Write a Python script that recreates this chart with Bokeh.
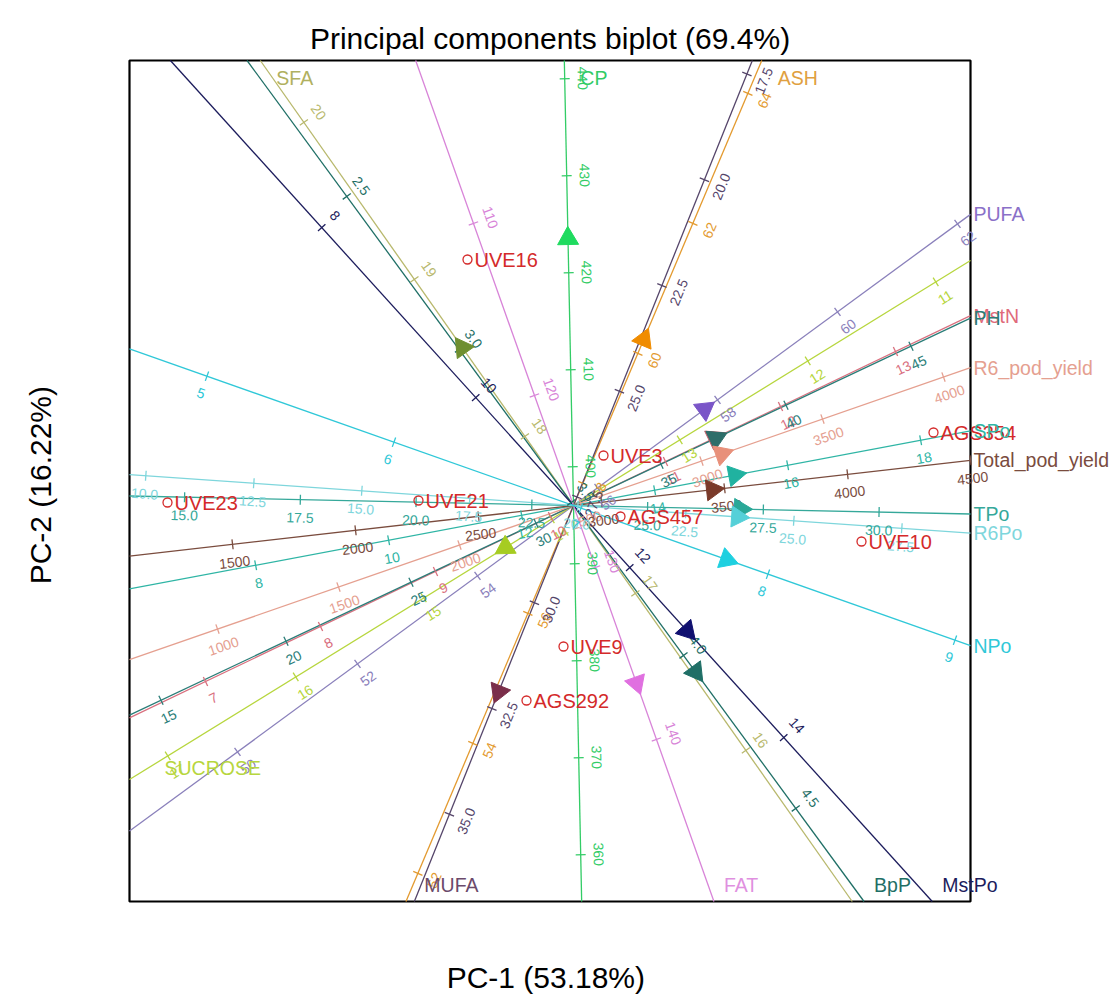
import math
from bokeh.plotting import figure
from bokeh.models import ColumnDataSource, Range1d
from bokeh.core.properties import value
from bokeh.embed import file_html
from bokeh.resources import INLINE

# ------------------------------------------------------------------ data
title_text = "Principal components biplot (69.4%)"
x_label = "PC-1  (53.18%)"
y_label = "PC-2  (16.22%)"

var_names = ["CP", "ASH", "MUFA", "SFA", "BpP", "MstPo", "FAT", "PUFA", "SUCROSE",
             "MstN", "PH", "R6_pod_yield", "SPo", "Total_pod_yield", "TPo", "R6Po", "NPo"]
# variable value at the biplot origin
var_center = [396.0, 57.66, 27.7, 17.56, 3.51, 11.27, 126.4, 55.6, 13.83,
              10.2, 31.5, 2471.0, 12.78, 2886.0, 23.4, 19.9, 6.96]
# calibration of each biplot axis: (PC1, PC2) shift per unit of the variable
var_dx = [-0.002, 0.275, -0.170, -1.105, 2.245, 0.77, 0.061, 0.60, -1.28,
          1.15, 0.25, 0.00242, 0.665, 0.00246, 0.463, 0.432, 1.87]
var_dy = [0.097, 0.65, -0.423, 1.57, -3.06, -0.85, -0.172, 0.44, -0.79,
          0.55, 0.118, 0.00084, 0.125, 0.00028, -0.0099, -0.030, -0.66]
var_ticks = [
    [360, 370, 380, 390, 400, 410, 420, 430, 440],
    [52, 54, 56, 58, 60, 62, 64],
    [17.5, 20.0, 22.5, 25.0, 27.5, 30.0, 32.5, 35.0],
    [16, 17, 18, 19, 20],
    [2.5, 3.0, 3.5, 4.0, 4.5],
    [8, 10, 12, 14],
    [110, 120, 130, 140],
    [50, 52, 54, 56, 58, 60, 62],
    [11, 12, 13, 14, 15, 16, 17],
    [7, 8, 9, 10, 11, 12, 13],
    [15, 20, 25, 30, 35, 40, 45],
    [1000, 1500, 2000, 2500, 3000, 3500, 4000],
    [8, 10, 12, 14, 16, 18],
    [1500, 2000, 2500, 3000, 3500, 4000, 4500],
    [15.0, 17.5, 20.0, 22.5, 25.0, 27.5, 30.0],
    [10.0, 12.5, 15.0, 17.5, 20.0, 22.5, 25.0, 27.5],
    [5, 6, 7, 8, 9],
]
var_decimals = [0, 0, 1, 0, 1, 0, 0, 0, 0, 0, 0, 0, 0, 0, 1, 1, 0]
# loadings (arrow tips) on PC1 / PC2
load_x = [-0.07, 0.68, -0.78, -1.11, 1.24, 1.14, 0.62, 1.32, -0.68,
          1.40, 1.43, 1.49, 1.62, 1.39, 1.67, 1.64, 1.52]
load_y = [2.67, 1.67, -1.85, 1.58, -1.65, -1.25, -1.78, 0.95, -0.42,
          0.70, 0.66, 0.50, 0.27, 0.17, -0.06, -0.14, -0.58]

obs_names = ["UVE16", "UVE3", "UVE21", "UVE23", "AGS457", "AGS354", "UVE10", "UVE9", "AGS292"]
obs_x = [-1.06, 0.30, -1.55, -4.06, 0.47, 3.60, 2.88, -0.10, -0.47]
obs_y = [2.46, 0.50, 0.05, 0.03, -0.11, 0.73, -0.36, -1.41, -1.95]

# ------------------------------------------------------------------ styles
var_colors = ["#33CC66", "#E39A2F", "#55456A", "#B8B86C", "#1F6F66", "#1C1C5C", "#D884D8",
              "#8A80BB", "#B7D63E", "#D9707F", "#2A7D78", "#E5A090", "#2FB5A5", "#7A4C3E",
              "#35A89A", "#7ED6DC", "#30C8D8"]
arrow_colors = ["#1FDB5F", "#F08C00", "#7A2E4A", "#6F8F2F", "#1F6F66", "#101070", "#E070E0",
                "#7A55C8", "#A6CC22", "#C0606A", "#2D6E6A", "#E8907A", "#20B2A0", "#7A3A2A",
                "#2AA898", "#55D0D8", "#1ED0E0"]
name_colors = ["#33CC66", "#E0A040", "#6B4A6B", "#B0B060", "#1F6F66", "#1C1C5C", "#E090E0",
               "#8A70C8", "#B7D63E", "#E06A7A", "#2A7D78", "#E5A090", "#2FB5A5", "#7A4C3E",
               "#35A89A", "#7ED6DC", "#30C8D8"]
obs_color = "#D42A2A"
FONT = "Liberation Sans"

# biplot box (data units, 100 px per unit) and whole canvas
X0, X1, Y0, Y1 = -4.44, 3.97, -3.96, 4.45
W, H = 1114, 998
CX0, CY1 = -5.73, 5.05
CX1, CY0 = CX0 + W / 100.0, CY1 - H / 100.0

p = figure(width=W, height=H, x_range=Range1d(CX0, CX1), y_range=Range1d(CY0, CY1),
           x_axis_type=None, y_axis_type=None, output_backend="svg", toolbar_location=None,
           min_border=0, min_border_left=0, min_border_right=0, min_border_top=0,
           min_border_bottom=0)
p.outline_line_color = None
p.background_fill_color = "white"
p.border_fill_color = "white"


def ray_exit(ux, uy):
    c = []
    if ux > 1e-9:
        c.append((X1 / ux, "right"))
    if ux < -1e-9:
        c.append((X0 / ux, "left"))
    if uy > 1e-9:
        c.append((Y1 / uy, "top"))
    if uy < -1e-9:
        c.append((Y0 / uy, "bottom"))
    return min(c)


seg = dict(x0=[], y0=[], x1=[], y1=[], color=[])
tck = dict(x0=[], y0=[], x1=[], y1=[], color=[])
tlab = dict(x=[], y=[], text=[], angle=[], color=[])
nlab = dict(x=[], y=[], text=[], color=[], align=[], baseline=[])
arr = dict(x=[], y=[], angle=[], color=[])

for i, nm in enumerate(var_names):
    dx, dy = var_dx[i], var_dy[i]
    nrm = math.hypot(dx, dy)
    ux, uy = dx / nrm, dy / nrm
    tp, side = ray_exit(ux, uy)
    tm, _ = ray_exit(-ux, -uy)
    seg["x0"].append(-tm * ux); seg["y0"].append(-tm * uy)
    seg["x1"].append(tp * ux); seg["y1"].append(tp * uy)
    seg["color"].append(var_colors[i])
    th = math.atan2(uy, ux)
    tn = th
    if tn > math.pi / 2 + 1e-9:
        tn -= math.pi
    if tn <= -math.pi / 2:
        tn += math.pi
    ox, oy = math.sin(tn), -math.cos(tn)
    if abs(tn) > math.pi / 4 and ox < 0:
        ox, oy = -ox, -oy
    nx, ny = -uy, ux
    for v in var_ticks[i]:
        px = (v - var_center[i]) * dx
        py = (v - var_center[i]) * dy
        if not (X0 - 0.02 <= px <= X1 + 0.02 and Y0 - 0.02 <= py <= Y1 + 0.02):
            continue
        tck["x0"].append(px - 0.05 * nx); tck["y0"].append(py - 0.05 * ny)
        tck["x1"].append(px + 0.05 * nx); tck["y1"].append(py + 0.05 * ny)
        tck["color"].append(var_colors[i])
        tlab["x"].append(px + 0.18 * ox); tlab["y"].append(py + 0.18 * oy)
        tlab["text"].append(f"{v:.{var_decimals[i]}f}")
        tlab["angle"].append(tn)
        tlab["color"].append(var_colors[i])
    t = load_x[i] * ux + load_y[i] * uy
    arr["x"].append(t * ux); arr["y"].append(t * uy)
    arr["angle"].append(th - math.pi / 2)
    arr["color"].append(arrow_colors[i])
    ex, ey = tp * ux, tp * uy
    if side == "right":
        lx, ly, al, bl = X1 + 0.03, ey, "left", "middle"
    elif side == "left":
        lx, ly, al, bl = X0 + 0.35, ey + 0.12, "left", "middle"
    elif side == "top":
        lx, ly, al, bl = ex + 0.16, Y1 - 0.06, "left", "top"
    else:
        lx, ly, al, bl = ex + 0.10, Y0 + 0.06, "left", "bottom"
    nlab["x"].append(lx); nlab["y"].append(ly); nlab["text"].append(nm)
    nlab["color"].append(name_colors[i]); nlab["align"].append(al); nlab["baseline"].append(bl)

# box
p.quad(left=[X0], right=[X1], bottom=[Y0], top=[Y1], fill_color=None,
       line_color="black", line_width=2.2)

p.segment(x0="x0", y0="y0", x1="x1", y1="y1", color="color", line_width=1.3,
          source=ColumnDataSource(seg))
p.segment(x0="x0", y0="y0", x1="x1", y1="y1", color="color", line_width=1.3,
          source=ColumnDataSource(tck))
p.text(x="x", y="y", text="text", angle="angle", angle_units="rad",
       text_color="color", text_font=value(FONT), text_font_size=value("14px"),
       text_align="center", text_baseline="middle", source=ColumnDataSource(tlab))
p.scatter(x="x", y="y", angle="angle", marker="triangle", size=21, fill_color="color",
          line_color="color", source=ColumnDataSource(arr))

p.scatter(x=obs_x, y=obs_y, marker="circle", size=9, fill_color=None,
          line_color=obs_color, line_width=1.3)
p.text(x="x", y="y", text="text", x_offset=7, text_color=obs_color,
       text_font=value(FONT), text_font_size=value("20px"), text_baseline="middle",
       text_align="left", source=ColumnDataSource(dict(x=obs_x, y=obs_y, text=obs_names)))

p.text(x="x", y="y", text="text", text_color="color",
       text_font=value(FONT), text_font_size=value("19.5px"),
       text_align="align", text_baseline="baseline", source=ColumnDataSource(nlab))

# title and axis titles
XC = (X0 + X1) / 2
p.text(x=[XC], y=[Y1 + 0.22], text=[title_text], text_align="center",
       text_baseline="alphabetic", text_font=value(FONT), text_font_size=value("30px"),
       text_color="black")
p.text(x=[X0 - 0.89], y=[(Y0 + Y1) / 2], text=[y_label], angle=math.pi / 2,
       text_align="center", text_baseline="middle", text_font=value(FONT),
       text_font_size=value("30px"), text_color="black")
p.text(x=[XC], y=[Y0 - 0.76], text=[x_label], text_align="center",
       text_baseline="middle", text_font=value(FONT), text_font_size=value("30px"),
       text_color="black")

open("out.html", "w").write(file_html(p, INLINE))
